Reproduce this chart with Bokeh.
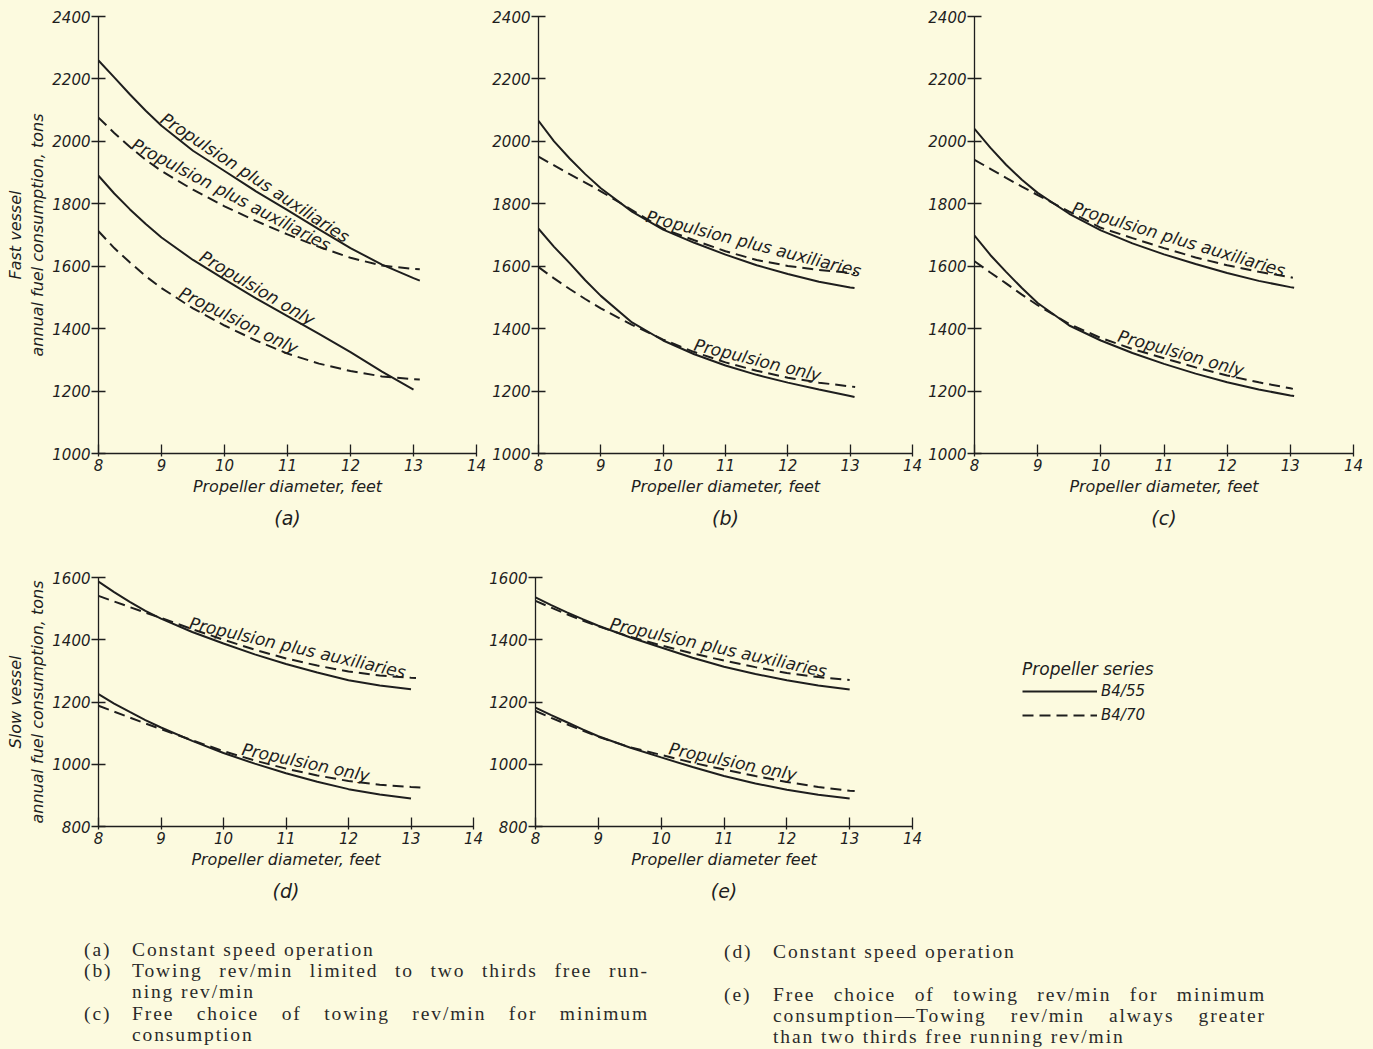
import numpy as np
from bokeh.plotting import figure
from bokeh.models import Range1d, FixedTicker, Title, Legend, LegendItem, Div
from bokeh.layouts import column, row
from bokeh.embed import file_html
from bokeh.resources import INLINE
from bokeh.core.properties import value

BG = "#fcfadf"
INK = "#1e1e1e"
FONT = "DejaVu Sans"

# ---------------- data ----------------
# (a) fast vessel, constant speed operation
a_x = [8, 8.25, 8.5, 8.75, 9, 9.5, 10, 10.5, 11, 11.5, 12, 12.5, 13, 13.1]
a_pa55 = [2259, 2205, 2150, 2098, 2050, 1970, 1905, 1840, 1780, 1718, 1658, 1605, 1562, 1554]
a_pa70 = [2076, 2027, 1982, 1941, 1905, 1845, 1792, 1745, 1702, 1662, 1627, 1602, 1591, 1590]
a_x55p = [8, 8.25, 8.5, 8.75, 9, 9.5, 10, 10.5, 11, 11.5, 12, 12.5, 13]
a_p55 = [1890, 1833, 1782, 1735, 1692, 1620, 1558, 1497, 1440, 1383, 1325, 1262, 1205]
a_p70 = [1712, 1658, 1612, 1568, 1530, 1465, 1410, 1362, 1320, 1288, 1264, 1247, 1238, 1237]

# (b) fast vessel, towing rev/min limited
b_x55 = [8, 8.25, 8.5, 8.75, 9, 9.5, 10, 10.5, 11, 11.5, 12, 12.5, 13, 13.07]
b_pa55 = [2066, 2000, 1945, 1895, 1850, 1775, 1717, 1675, 1637, 1603, 1575, 1550, 1532, 1530]
b_p55 = [1720, 1662, 1610, 1555, 1505, 1420, 1362, 1318, 1282, 1252, 1227, 1205, 1184, 1181]
b_x70 = [8, 8.25, 8.5, 8.75, 9, 9.5, 10, 10.5, 11, 11.5, 12, 12.5, 13, 13.08]
b_pa70 = [1951, 1923, 1895, 1868, 1840, 1780, 1720, 1683, 1648, 1620, 1601, 1588, 1579, 1578]
b_p70 = [1597, 1561, 1527, 1495, 1465, 1412, 1365, 1325, 1292, 1265, 1243, 1227, 1215, 1213]

# (c) fast vessel, free choice of towing rev/min
c_x55 = [8, 8.25, 8.5, 8.75, 9, 9.5, 10, 10.5, 11, 11.5, 12, 12.5, 13, 13.06]
c_pa55 = [2040, 1980, 1925, 1877, 1835, 1768, 1715, 1673, 1638, 1607, 1578, 1553, 1533, 1531]
c_p55 = [1698, 1636, 1582, 1530, 1482, 1410, 1362, 1322, 1287, 1256, 1228, 1205, 1186, 1184]
c_x70 = [8, 8.25, 8.5, 8.75, 9, 9.5, 10, 10.5, 11, 11.5, 12, 12.5, 13, 13.04]
c_pa70 = [1941, 1912, 1883, 1855, 1828, 1775, 1723, 1690, 1658, 1628, 1603, 1582, 1565, 1563]
c_p70 = [1616, 1580, 1545, 1509, 1475, 1415, 1370, 1335, 1305, 1276, 1250, 1228, 1209, 1207]

# (d) slow vessel, constant speed operation
d_x55 = [8, 8.25, 8.5, 8.75, 9, 9.5, 10, 10.5, 11, 11.5, 12, 12.5, 13]
d_pa55 = [1587, 1553, 1522, 1493, 1468, 1425, 1388, 1353, 1322, 1295, 1270, 1253, 1241]
d_p55 = [1225, 1195, 1168, 1142, 1118, 1075, 1036, 1002, 971, 944, 920, 903, 890]
d_xpa70 = [8, 8.25, 8.5, 8.75, 9, 9.5, 10, 10.5, 11, 11.5, 12, 12.5, 13, 13.08]
d_pa70 = [1541, 1523, 1505, 1487, 1470, 1434, 1400, 1368, 1340, 1317, 1298, 1285, 1278, 1277]
d_xp70 = [8, 8.25, 8.5, 8.75, 9, 9.5, 10, 10.5, 11, 11.5, 12, 12.5, 13, 13.15]
d_p70 = [1188, 1169, 1150, 1131, 1113, 1077, 1042, 1012, 986, 964, 946, 934, 927, 925]

# (e) slow vessel, free choice of towing rev/min
e_x55 = [8, 8.25, 8.5, 8.75, 9, 9.5, 10, 10.5, 11, 11.5, 12, 12.5, 13]
e_pa55 = [1536, 1511, 1488, 1466, 1445, 1408, 1375, 1342, 1313, 1290, 1270, 1253, 1240]
e_pa70 = [1525, 1503, 1482, 1462, 1443, 1410, 1382, 1356, 1333, 1312, 1293, 1280, 1271]
e_p55 = [1182, 1158, 1135, 1112, 1090, 1054, 1022, 991, 962, 938, 918, 902, 890]
e_xp70 = [8, 8.25, 8.5, 8.75, 9, 9.5, 10, 10.5, 11, 11.5, 12, 12.5, 13, 13.08]
e_p70 = [1171, 1149, 1128, 1108, 1088, 1055, 1030, 1005, 983, 962, 943, 927, 915, 914]

x_ticks = [8, 9, 10, 11, 12, 13, 14]
fast_ticks = [1000, 1200, 1400, 1600, 1800, 2000, 2200, 2400]
slow_ticks = [800, 1000, 1200, 1400, 1600]

LBL_PA = "Propulsion plus auxiliaries"
LBL_P = "Propulsion only"
DASH = "11 6"

# approximate DejaVu Sans advance widths (em) for label placement
EM = {"P": .603, "r": .411, "o": .612, "p": .635, "u": .634, "l": .278, "s": .521,
      "i": .278, "n": .634, " ": .318, "a": .613, "x": .592, "e": .615, "y": .592}


def text_px(s, size):
    return sum(EM.get(c, 0.6) for c in s) * size


def curve_label(p, xs, ys, text, x_start, xr, yr, fw, fh, size=17, gap=-1.0):
    sx = fw / (xr[1] - xr[0])
    sy = fh / (yr[1] - yr[0])
    X = (np.asarray(xs, float) - xr[0]) * sx
    Y = (np.asarray(ys, float) - yr[0]) * sy
    Xd = np.linspace(X[0], X[-1], 3000)
    Yd = np.interp(Xd, X, Y)
    s = np.concatenate([[0.0], np.cumsum(np.hypot(np.diff(Xd), np.diff(Yd)))])
    X0 = (x_start - xr[0]) * sx
    s0 = np.interp(X0, Xd, s)
    s1 = s0 + text_px(text, size)
    X1 = np.interp(s1, s, Xd)
    Y0 = np.interp(X0, Xd, Yd)
    Y1 = np.interp(X1, Xd, Yd)
    ang = float(np.arctan2(Y1 - Y0, X1 - X0))
    Xm = 0.5 * (X0 + X1)
    Ya = 0.5 * (np.interp(Xm, Xd, Yd) + 0.5 * (Y0 + Y1))
    ax = Xm - np.sin(ang) * gap
    ay = Ya + np.cos(ang) * gap
    p.text(x=[xr[0] + ax / sx], y=[yr[0] + ay / sy], text=[text], angle=ang,
           text_align="center", text_baseline="bottom",
           text_font=value(FONT), text_font_style="italic",
           text_font_size=f"{size}px", text_color=INK)


def panel(width, height, left, right, top, bottom, yr, yticks, xlabel, caption, ylabel=None):
    p = figure(width=width, height=height, x_range=Range1d(8, 14), y_range=Range1d(*yr),
               toolbar_location=None, output_backend="svg",
               min_border_left=left, min_border_right=right,
               min_border_top=top, min_border_bottom=bottom)
    p.background_fill_color = BG
    p.border_fill_color = BG
    p.outline_line_color = None
    p.xgrid.visible = False
    p.ygrid.visible = False
    for ax in (p.xaxis[0], p.yaxis[0]):
        ax.axis_line_color = INK
        ax.axis_line_width = 1.3
        ax.major_tick_line_color = INK
        ax.major_tick_line_width = 1.3
        ax.minor_tick_line_color = None
        ax.major_label_text_font = FONT
        ax.major_label_text_font_style = "italic"
        ax.major_label_text_font_size = "15px"
        ax.major_label_text_color = INK
        ax.axis_label_text_font = FONT
        ax.axis_label_text_font_style = "italic"
        ax.axis_label_text_font_size = "16px"
        ax.axis_label_text_color = INK
    p.xaxis.ticker = FixedTicker(ticks=x_ticks)
    p.xaxis.major_tick_in = 9
    p.xaxis.major_tick_out = 3
    p.xaxis.major_label_standoff = 2
    p.xaxis.axis_label = xlabel
    p.xaxis.axis_label_standoff = 3
    p.yaxis.ticker = FixedTicker(ticks=yticks)
    p.yaxis.major_tick_in = 7
    p.yaxis.major_tick_out = 7
    p.yaxis.major_label_standoff = 1
    if ylabel:
        p.yaxis.axis_label = ylabel
        p.yaxis.axis_label_standoff = 2
    p.add_layout(Title(text=caption, align="center", text_font=FONT,
                       text_font_style="italic", text_font_size="19px",
                       text_color=INK, standoff=12), "below")
    return p


def draw(p, x55, pa55, p55, xpa70, pa70, xp70, p70):
    p.line(x55, pa55, line_color=INK, line_width=2)
    p.line(x55, p55, line_color=INK, line_width=2)
    p.line(xpa70, pa70, line_color=INK, line_width=2, line_dash=DASH)
    p.line(xp70, p70, line_color=INK, line_width=2, line_dash=DASH)


FR = (1000, 2400)
SR = (800, 1600)
XR = (8, 14)

# row 1 (frames: top 16, height 437)
pa = panel(486, 560, 98, 10, 16, 107, FR, fast_ticks, "Propeller diameter, feet", "(a)",
           "Fast vessel\nannual fuel consumption, tons")
pa.line(a_x, a_pa55, line_color=INK, line_width=2)
pa.line(a_x55p, a_p55, line_color=INK, line_width=2)
pa.line(a_x, a_pa70, line_color=INK, line_width=2, line_dash=DASH)
pa.line(a_x, a_p70, line_color=INK, line_width=2, line_dash=DASH)
curve_label(pa, a_x, a_pa55, LBL_PA, 8.94, XR, FR, 378, 437)
curve_label(pa, a_x, a_pa70, LBL_PA, 8.49, XR, FR, 378, 437)
curve_label(pa, a_x55p, a_p55, LBL_P, 9.56, XR, FR, 378, 437)
curve_label(pa, a_x, a_p70, LBL_P, 9.24, XR, FR, 378, 437)

pb = panel(436, 560, 52, 10, 16, 107, FR, fast_ticks, "Propeller diameter, feet", "(b)")
draw(pb, b_x55, b_pa55, b_p55, b_x70, b_pa70, b_x70, b_p70)
curve_label(pb, b_x70, b_pa70, LBL_PA, 9.75, XR, FR, 374, 437)
curve_label(pb, b_x70, b_p70, LBL_P, 10.47, XR, FR, 374, 437)

pc = panel(441, 560, 52, 10, 16, 107, FR, fast_ticks, "Propeller diameter, feet", "(c)")
draw(pc, c_x55, c_pa55, c_p55, c_x70, c_pa70, c_x70, c_p70)
curve_label(pc, c_x70, c_pa70, LBL_PA, 9.52, XR, FR, 379, 437)
curve_label(pc, c_x70, c_p70, LBL_P, 10.24, XR, FR, 379, 437)

# row 2 (frames: top 577, height 249)
pd_ = panel(483, 370, 98, 10, 17, 104, SR, slow_ticks, "Propeller diameter, feet", "(d)",
            "Slow vessel\nannual fuel consumption, tons")
draw(pd_, d_x55, d_pa55, d_p55, d_xpa70, d_pa70, d_xp70, d_p70)
curve_label(pd_, d_xpa70, d_pa70, LBL_PA, 9.43, XR, SR, 375, 249)
curve_label(pd_, d_xp70, d_p70, LBL_P, 10.27, XR, SR, 375, 249)

pe = panel(439, 370, 52, 10, 17, 104, SR, slow_ticks, "Propeller diameter feet", "(e)")
draw(pe, e_x55, e_pa55, e_p55, e_x55, e_pa70, e_xp70, e_p70)
curve_label(pe, e_x55, e_pa70, LBL_PA, 9.16, XR, SR, 377, 249)
curve_label(pe, e_xp70, e_p70, LBL_P, 10.1, XR, SR, 377, 249)

# legend panel
plg = figure(width=440, height=370, x_range=Range1d(0, 1), y_range=Range1d(0, 1),
             toolbar_location=None, output_backend="svg",
             min_border_left=18, min_border_right=0, min_border_top=0, min_border_bottom=0)
plg.background_fill_color = BG
plg.border_fill_color = BG
plg.outline_line_color = None
plg.axis.visible = False
plg.grid.visible = False
r55 = plg.line(x=[2, 3], y=[2, 3], line_color=INK, line_width=2)
r70 = plg.line(x=[2, 3], y=[2, 3], line_color=INK, line_width=2, line_dash=DASH)
leg = Legend(items=[LegendItem(label="B4/55", renderers=[r55]),
                    LegendItem(label="B4/70", renderers=[r70])],
             title="Propeller series", location="top_left", margin=82, padding=0,
             glyph_width=75, glyph_height=20, label_height=20, label_standoff=4,
             spacing=4, title_standoff=2,
             background_fill_alpha=0, border_line_color=None,
             label_text_font=FONT, label_text_font_style="italic",
             label_text_font_size="15px", label_text_color=INK,
             title_text_font=FONT, title_text_font_style="italic",
             title_text_font_size="17px", title_text_color=INK)
plg.add_layout(leg)

# captions
def cap_line(left, top, width, txt, justify=False):
    j = "text-align:justify;text-align-last:justify;" if justify else "white-space:nowrap;"
    return (f'<div style="position:absolute;left:{left}px;top:{top}px;'
            f'width:{width}px;height:21px;{j}">{txt}</div>')

LX, LT, LW = 84, 132, 517
RX, RT, RW = 724, 773, 493
parts = [
    cap_line(LX, 9, 40, "(a)"), cap_line(LT, 9, LW, "Constant speed operation"),
    cap_line(LX, 30, 40, "(b)"),
    cap_line(LT, 30, LW, "Towing rev/min limited to two thirds free run-", True),
    cap_line(LT, 51, LW, "ning rev/min"),
    cap_line(LX, 73, 40, "(c)"),
    cap_line(LT, 73, LW, "Free choice of towing rev/min for minimum", True),
    cap_line(LT, 94, LW, "consumption"),
    cap_line(RX, 11, 40, "(d)"), cap_line(RT, 11, RW, "Constant speed operation"),
    cap_line(RX, 54, 40, "(e)"),
    cap_line(RT, 54, RW, "Free choice of towing rev/min for minimum", True),
    cap_line(RT, 75, RW, "consumption&mdash;Towing rev/min always greater", True),
    cap_line(RT, 96, RW, "than two thirds free running rev/min"),
]
html_caps = ('<div style="position:relative;width:1368px;height:118px;overflow:hidden;'
             f'background:{BG};font-family:\'Liberation Serif\',serif;font-size:19.5px;'
             'letter-spacing:1.9px;line-height:21px;color:#2a2a2a;">' + "".join(parts) + "</div>")
caps = Div(text=html_caps, width=1368, height=118, margin=0)

layout = column(row(pa, pb, pc, spacing=0), row(pd_, pe, plg, spacing=0), caps, spacing=0)

html = file_html(layout, INLINE, title="Propeller diameter vs fuel consumption")
k = html.rfind("</head>")
html = html[:k] + f"<style>html, body {{ background-color: {BG}; }}</style>\n" + html[k:]
with open("out.html", "w", encoding="utf-8") as f:
    f.write(html)
